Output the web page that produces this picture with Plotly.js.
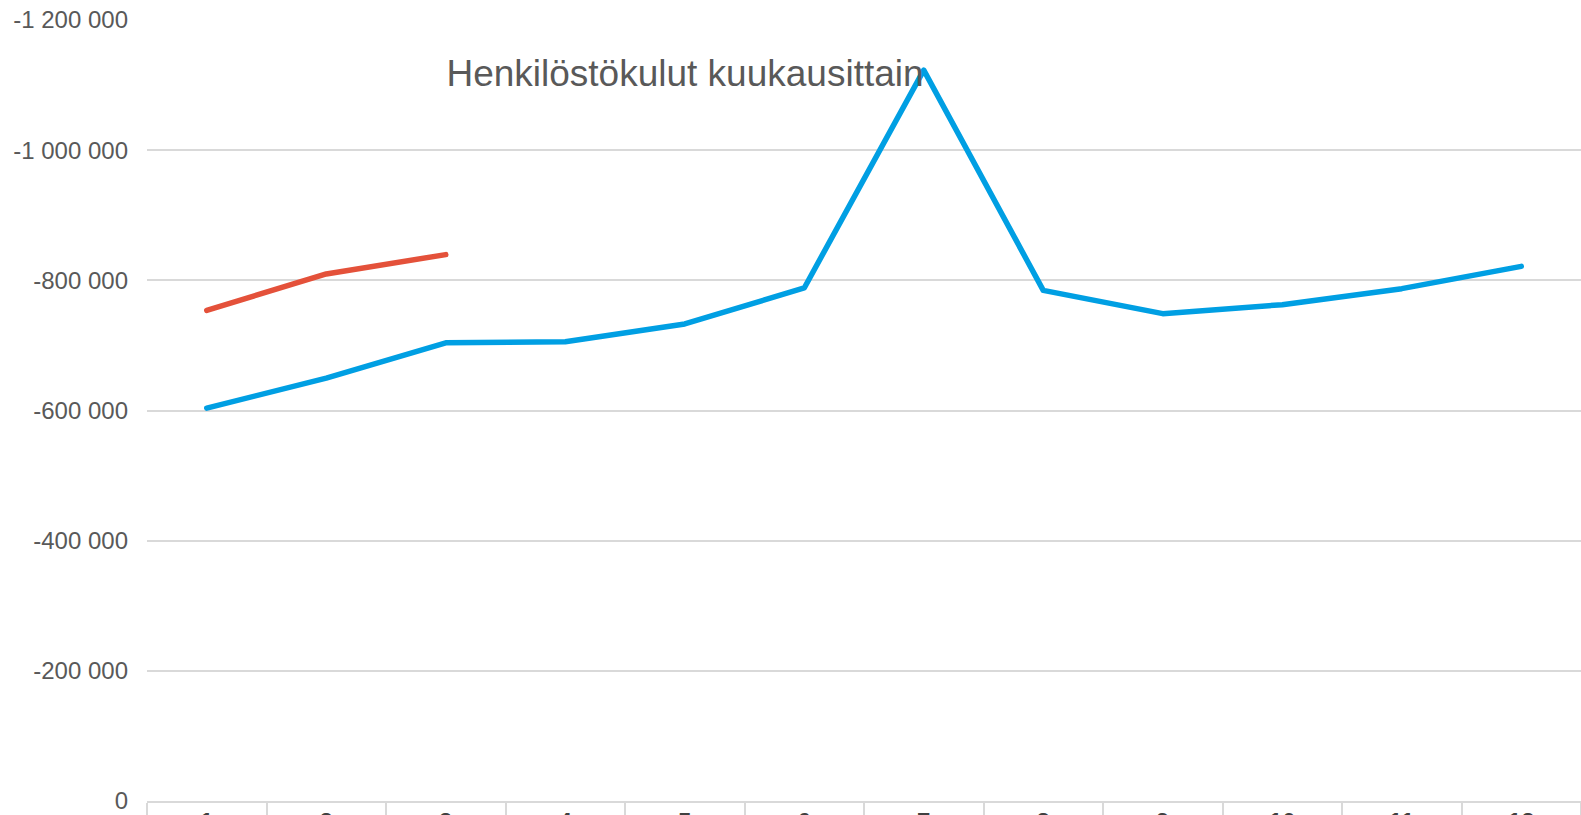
<!DOCTYPE html>
<html>
<head>
<meta charset="utf-8">
<script src="https://cdn.plot.ly/plotly-3.0.1.min.js"></script>
<style>
  html, body { margin: 0; padding: 0; background: #ffffff; }
  #chart { width: 1581px; height: 815px; }
  .scatterlayer .js-line { stroke-linecap: round; stroke-linejoin: round; }
</style>
</head>
<body>
<div id="chart"></div>
<script>
// Categories (months)
const months = ['1', '2', '3', '4', '5', '6', '7', '8', '9', '10', '11', '12'];

// Series values
const blueSeries = [-603700, -649800, -704000, -705500, -733000, -788300, -1123000, -784600, -748800, -762600, -787200, -821500];
const redMonths = ['1', '2', '3'];
const redSeries = [-753800, -809800, -839500];

// Y-axis tick values and labels
const yTickVals = [0, -200000, -400000, -600000, -800000, -1000000, -1200000];
const yTickText = ['0', '-200 000', '-400 000', '-600 000', '-800 000', '-1 000 000', '-1 200 000'];

const titleText = 'Henkilöstökulut kuukausittain';

const traces = [
  {
    type: 'scatter', mode: 'lines', x: months, y: blueSeries,
    line: { color: '#009fe3', width: 5.5 }, hoverinfo: 'skip', showlegend: false
  },
  {
    type: 'scatter', mode: 'lines', x: redMonths, y: redSeries,
    line: { color: '#e4513a', width: 5.5 }, hoverinfo: 'skip', showlegend: false
  }
];

const layout = {
  width: 1581, height: 815,
  margin: { l: 147, r: 0, t: 20, b: 14, pad: 0 },
  paper_bgcolor: '#ffffff', plot_bgcolor: '#ffffff',
  font: { family: '"Liberation Sans", Arial, sans-serif', color: '#595959' },
  showlegend: false,
  title: {
    text: titleText,
    font: { size: 37, color: '#595959', family: '"Liberation Sans", Arial, sans-serif' },
    x: 685 / 1581, xanchor: 'center', xref: 'container',
    y: 1 - 73 / 815, yanchor: 'middle', yref: 'container'
  },
  xaxis: {
    type: 'category', categoryorder: 'array', categoryarray: months,
    range: [-0.5, 11.5], fixedrange: true,
    showgrid: false, zeroline: false,
    showline: true, linecolor: '#d9d9d9', linewidth: 2,
    ticks: 'outside', tickson: 'boundaries', ticklen: 20, tickwidth: 2, tickcolor: '#d9d9d9',
    tickfont: { size: 24, color: '#404040', weight: 'bold' },
    ticklabelstandoff: -2
  },
  yaxis: {
    range: [0, -1200000], fixedrange: true,
    tickmode: 'array', tickvals: yTickVals, ticktext: yTickText,
    showgrid: true, gridcolor: '#d9d9d9', gridwidth: 2,
    zeroline: false, showline: false, ticks: '',
    tickfont: { size: 24, color: '#595959' },
    ticklabelstandoff: 18
  }
};

Plotly.newPlot('chart', traces, layout, { displayModeBar: false, staticPlot: true });
</script>
</body>
</html>
